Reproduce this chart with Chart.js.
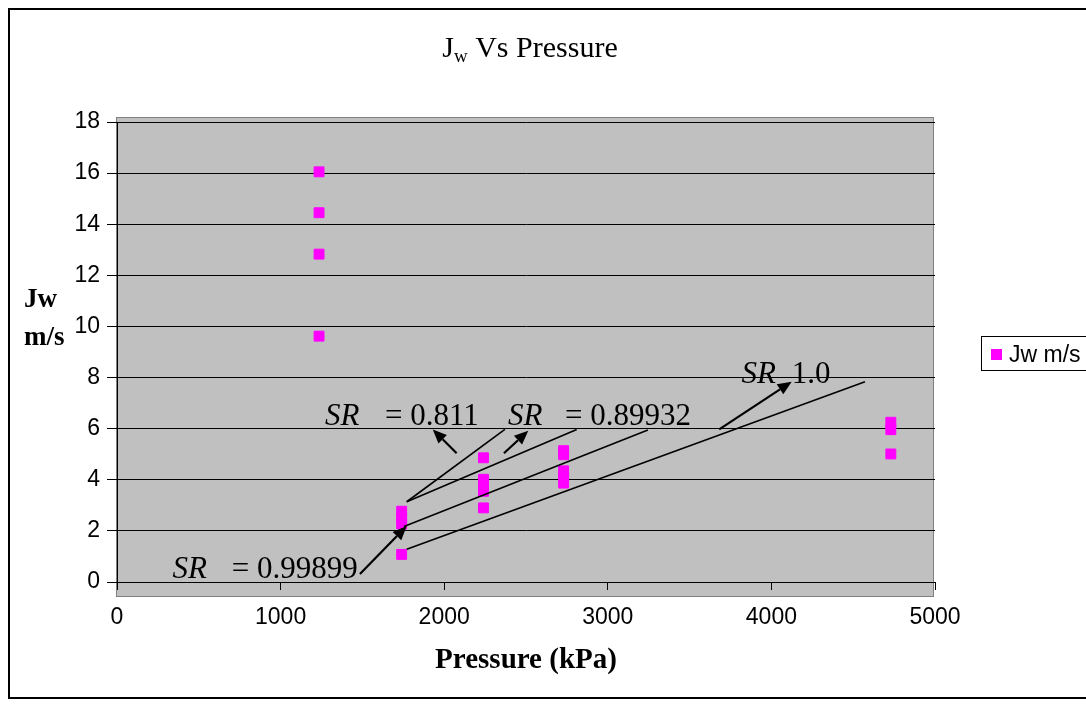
<!DOCTYPE html>
<html>
<head>
<meta charset="utf-8">
<title>Jw Vs Pressure</title>
<script src="https://cdn.jsdelivr.net/npm/chart.js@4.4.1/dist/chart.umd.min.js"></script>
<style>
  html, body { margin: 0; padding: 0; background: #fff; overflow: hidden; }
  #wrap { position: relative; width: 1086px; height: 704px; }
  #chart { display: block; }
  #frame { position: absolute; left: 8px; top: 8px; width: 1100px; height: 691px; border: 2px solid #000; box-sizing: border-box; pointer-events: none; }
</style>
</head>
<body>
<div id="wrap">
  <canvas id="chart" width="1086" height="704"></canvas>
  <div id="frame"></div>
</div>
<script>
// Measured points (kPa, m/s)
const pressure = [1235, 1235, 1235, 1235,
                  1740, 1740, 1740, 1740,
                  2240, 2240, 2240, 2240, 2240,
                  2730, 2730, 2730, 2730, 2730,
                  4730, 4730, 4730];
const flux = [16.05, 14.45, 12.83, 9.62,
              2.77, 2.52, 2.27, 1.08,
              4.86, 4.02, 3.78, 3.55, 2.9,
              5.14, 4.98, 4.35, 4.1, 3.87,
              6.25, 5.96, 5.01];
const seriesLabel = 'Jw m/s';
const xTicks = [0, 1000, 2000, 3000, 4000, 5000];
const yTicks = [0, 2, 4, 6, 8, 10, 12, 14, 16, 18];

// Hand drawn trend lines, data units [x1, y1, x2, y2]
const trendLines = [
  [1771, 3.14, 2371, 5.97],
  [1771, 3.14, 2810, 5.97],
  [1754, 2.17, 3245, 5.95],
  [1771, 1.28, 4572, 7.84]
];
// Arrows, tail -> tip
const arrows = [
  [2076, 5.04, 1930, 5.97],
  [2365, 5.04, 2514, 5.92],
  [1485, 0.31, 1771, 2.19],
  [3681, 5.97, 4124, 7.84]
];
// SR labels: where "SR" starts, where the value starts, baseline
const srX = [1271, 2390, 3818, 340];
const srValueX = [1638, 2738, 4124, 701];
const srY = [6.14, 6.14, 7.79, 0.16];
const srText = ['= 0.811', '= 0.89932', '1.0', '= 0.99899'];

const SERIF = '"Liberation Serif", "Times New Roman", serif';
const SANS = '"Liberation Sans", Arial, sans-serif';

const points = pressure.map((p, i) => ({ x: p, y: flux[i] }));

// Gray plot area, a bit larger than the axes like the original
const plotBg = {
  id: 'plotBg',
  beforeDraw(chart) {
    const { ctx, chartArea: a } = chart;
    ctx.save();
    ctx.fillStyle = '#c0c0c0';
    ctx.fillRect(a.left - 1, a.top - 5, a.right - a.left, a.bottom - a.top + 20);
    ctx.strokeStyle = '#808080';
    ctx.lineWidth = 1;
    ctx.strokeRect(a.left - 0.5, a.top - 4.5, a.right - a.left - 1, a.bottom - a.top + 19);
    ctx.restore();
  }
};

function drawArrow(ctx, x1, y1, x2, y2) {
  const ang = Math.atan2(y2 - y1, x2 - x1);
  const len = 14, half = 6;
  const bx = x2 - Math.cos(ang) * len, by = y2 - Math.sin(ang) * len;
  ctx.beginPath();
  ctx.moveTo(x1, y1);
  ctx.lineTo(bx, by);
  ctx.stroke();
  ctx.beginPath();
  ctx.moveTo(x2, y2);
  ctx.lineTo(bx + Math.sin(ang) * half, by - Math.cos(ang) * half);
  ctx.lineTo(bx - Math.sin(ang) * half, by + Math.cos(ang) * half);
  ctx.closePath();
  ctx.fill();
}

// Lines, arrows and the SR text boxes drawn over the points
const notes = {
  id: 'notes',
  afterDatasetsDraw(chart) {
    const { ctx, scales: { x, y } } = chart;
    ctx.save();
    ctx.strokeStyle = '#000';
    ctx.fillStyle = '#000';
    ctx.lineWidth = 1.6;
    for (const l of trendLines) {
      ctx.beginPath();
      ctx.moveTo(x.getPixelForValue(l[0]), y.getPixelForValue(l[1]));
      ctx.lineTo(x.getPixelForValue(l[2]), y.getPixelForValue(l[3]));
      ctx.stroke();
    }
    ctx.lineWidth = 2.2;
    for (const a of arrows) {
      drawArrow(ctx, x.getPixelForValue(a[0]), y.getPixelForValue(a[1]),
                x.getPixelForValue(a[2]), y.getPixelForValue(a[3]));
    }
    ctx.textBaseline = 'alphabetic';
    ctx.textAlign = 'left';
    for (let i = 0; i < srX.length; i++) {
      const by = y.getPixelForValue(srY[i]);
      ctx.font = 'italic 31px ' + SERIF;
      ctx.fillText('SR', x.getPixelForValue(srX[i]), by);
      ctx.font = '31px ' + SERIF;
      ctx.fillText(srText[i], x.getPixelForValue(srValueX[i]), by);
    }
    ctx.restore();
  }
};

// Title with subscript, axis titles, boxed legend
const texts = {
  id: 'texts',
  afterDraw(chart) {
    const { ctx } = chart;
    ctx.save();
    ctx.fillStyle = '#000';
    ctx.textBaseline = 'alphabetic';
    ctx.textAlign = 'left';

    // title "Jw Vs Pressure"
    const big = '30px ' + SERIF, small = '19px ' + SERIF;
    ctx.font = big; const wJ = ctx.measureText('J').width;
    const wRest = ctx.measureText(' Vs Pressure').width;
    ctx.font = small; const wW = ctx.measureText('w').width;
    let tx = 530 - (wJ + wW + wRest) / 2;
    ctx.font = big; ctx.fillText('J', tx, 57); tx += wJ;
    ctx.font = small; ctx.fillText('w', tx, 62); tx += wW;
    ctx.font = big; ctx.fillText(' Vs Pressure', tx, 57);

    // y axis title
    ctx.font = 'bold 27px ' + SERIF;
    ctx.fillText('Jw', 24, 307);
    ctx.fillText('m/s', 24, 345);

    // x axis title
    ctx.textAlign = 'center';
    ctx.font = 'bold 29px ' + SERIF;
    ctx.fillText('Pressure (kPa)', 526, 668);

    // legend
    const ds = chart.data.datasets[0];
    ctx.strokeStyle = '#000';
    ctx.lineWidth = 1;
    ctx.strokeRect(981.5, 336.5, 140, 34);
    ctx.fillStyle = ds.backgroundColor;
    ctx.fillRect(991, 349, 11, 11);
    ctx.fillStyle = '#000';
    ctx.textAlign = 'left';
    ctx.font = '23px ' + SANS;
    ctx.fillText(ds.label, 1009, 362);
    ctx.restore();
  }
};

new Chart(document.getElementById('chart'), {
  type: 'scatter',
  data: {
    datasets: [{
      label: seriesLabel,
      data: points,
      pointStyle: 'rect',
      pointRadius: 7,
      pointHoverRadius: 7,
      backgroundColor: '#ff00ff',
      borderColor: '#ff00ff',
      borderWidth: 1
    }]
  },
  options: {
    responsive: false,
    animation: false,
    events: [],
    layout: { padding: { left: 0, top: 122, right: 151, bottom: 0 } },
    plugins: {
      legend: { display: false },
      tooltip: { enabled: false },
      title: { display: false }
    },
    scales: {
      x: {
        type: 'linear',
        min: xTicks[0],
        max: xTicks[xTicks.length - 1],
        afterBuildTicks: s => { s.ticks = xTicks.map(v => ({ value: v })); },
        afterFit: s => { s.height = 122; },
        ticks: {
          color: '#000',
          font: { family: SANS, size: 23 },
          padding: 14,
          maxRotation: 0,
          autoSkip: false,
          callback: v => String(v)
        },
        grid: { drawOnChartArea: false, drawTicks: true, tickLength: 8, color: '#000', lineWidth: 1 },
        border: { display: true, color: '#000', width: 1 }
      },
      y: {
        type: 'linear',
        min: yTicks[0],
        max: yTicks[yTicks.length - 1],
        afterBuildTicks: s => { s.ticks = yTicks.map(v => ({ value: v })); },
        afterFit: s => { s.width = 117; },
        ticks: {
          color: '#000',
          font: { family: SANS, size: 23 },
          padding: 7,
          autoSkip: false,
          callback: v => String(v)
        },
        grid: { color: '#000', lineWidth: 1, tickLength: 10 },
        border: { display: true, color: '#000', width: 1 }
      }
    }
  },
  plugins: [plotBg, notes, texts]
});
</script>
</body>
</html>
